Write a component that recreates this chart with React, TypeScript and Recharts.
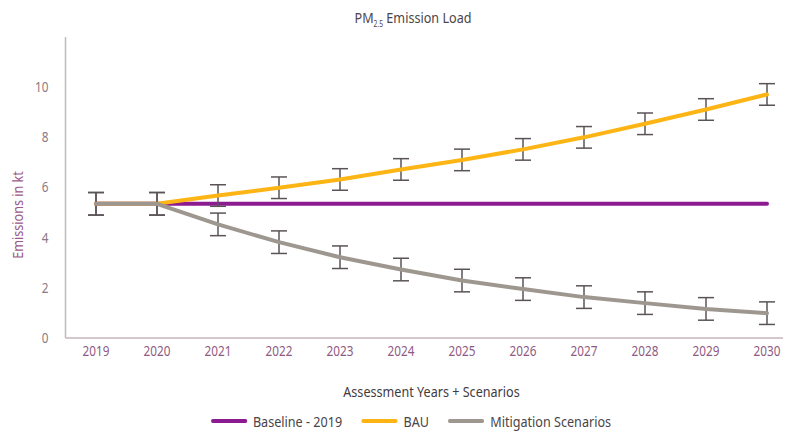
import React from 'react';
import { LineChart, Line, XAxis, YAxis, ErrorBar, Legend } from 'recharts';

const years = ['2019', '2020', '2021', '2022', '2023', '2024', '2025', '2026', '2027', '2028', '2029', '2030'];
const baseline = [5.35, 5.35, 5.35, 5.35, 5.35, 5.35, 5.35, 5.35, 5.35, 5.35, 5.35, 5.35];
const bau = [5.35, 5.35, 5.68, 5.99, 6.32, 6.72, 7.1, 7.52, 8.0, 8.54, 9.11, 9.71];
const bauErr = [0.45, 0.45, 0.43, 0.43, 0.43, 0.43, 0.43, 0.43, 0.43, 0.43, 0.43, 0.43];
const mitigation = [5.35, 5.35, 4.53, 3.82, 3.22, 2.73, 2.29, 1.95, 1.63, 1.39, 1.16, 0.99];
const mitigationErr = [0.45, 0.45, 0.45, 0.45, 0.45, 0.45, 0.45, 0.45, 0.45, 0.45, 0.45, 0.45];
const yTicks = [0, 2, 4, 6, 8, 10];
const seriesOrder = ['Baseline - 2019', 'BAU', 'Mitigation Scenarios'];

const data = years.map((y, i) => ({
  year: y,
  baseline: baseline[i],
  bau: bau[i],
  bauErr: bauErr[i],
  mitigation: mitigation[i],
  mitigationErr: mitigationErr[i],
}));

const FONT = '"Noto Sans", sans-serif';
const SX = 0.84;

const XTick = (props: any) => {
  const { x, y, payload } = props;
  return (
    <g transform={`translate(${x},${y})`}>
      <text x={0} y={0} dy="0.71em" textAnchor="middle" transform={`scale(${SX},1)`} fill="#8e5a82" fontSize={14} fontFamily={FONT}>
        {payload.value}
      </text>
    </g>
  );
};

const YTick = (props: any) => {
  const { x, y, payload } = props;
  return (
    <g transform={`translate(${x},${y})`}>
      <text x={0} y={0} dy="0.355em" textAnchor="end" transform={`scale(${SX},1)`} fill="#8a7a86" fontSize={14} fontFamily={FONT}>
        {payload.value}
      </text>
    </g>
  );
};

const XLabel = (props: any) => {
  const vb = props.viewBox || { x: 0, y: 0, width: 0, height: 0 };
  const cx = vb.x + vb.width / 2;
  const cy = vb.y + vb.height - 1;
  return (
    <g transform={`translate(${cx},${cy})`}>
      <text x={0} y={0} textAnchor="middle" transform={`scale(${SX},1)`} fill="#3f3a3d" fontSize={15} fontFamily={FONT}>
        Assessment Years + Scenarios
      </text>
    </g>
  );
};

const YLabel = () => (
  <g transform="translate(9,207) rotate(-90)">
    <text x={0} y={0} textAnchor="middle" dominantBaseline="central" transform={`scale(${SX},1)`} fill="#9a5a8a" fontSize={15} fontFamily={FONT}>
      Emissions in kt
    </text>
  </g>
);

const renderLegend = (props: any) => {
  const payload = [...(props.payload || [])].sort(
    (a: any, b: any) => seriesOrder.indexOf(a.value) - seriesOrder.indexOf(b.value)
  );
  return (
    <div style={{ display: 'flex', justifyContent: 'center', alignItems: 'center', fontFamily: FONT, fontSize: 15, lineHeight: '18px', color: '#4a4448', transform: `scaleX(${SX})`, transformOrigin: 'center', whiteSpace: 'nowrap' }}>
      {payload.map((p: any, i: number) => (
        <div key={p.value} style={{ display: 'flex', alignItems: 'center', marginRight: i < payload.length - 1 ? 23 : 0 }}>
          <div style={{ width: 43, height: 4, borderRadius: 2, background: p.color, marginRight: 7 }} />
          <span>{p.value}</span>
        </div>
      ))}
    </div>
  );
};

export default function App() {
  return (
    <div style={{ position: 'relative', width: 783, height: 425, overflow: 'hidden', background: '#fff', fontFamily: FONT }}>
      <div style={{ position: 'absolute', top: -1, left: 0, width: 810, textAlign: 'center', fontSize: 15, lineHeight: '20px', color: '#4d4448', zIndex: 2, transform: `scaleX(${SX})`, transformOrigin: 'center', whiteSpace: 'nowrap' }}>
        PM<sub style={{ fontSize: 8, lineHeight: '8px' }}>2.5</sub> Emission Load
      </div>
      <LineChart width={800} height={425} data={data} margin={{ top: 29, right: 10.5, bottom: 35, left: 7.5 }}>
        <XAxis
          dataKey="year"
          height={60}
          padding={{ left: 30.5, right: 30.5 }}
          axisLine={{ stroke: '#c4b6bd', strokeWidth: 1.5 }}
          tickLine={false}
          tick={<XTick />}
          label={<XLabel />}
        />
        <YAxis
          width={50}
          domain={[0, 12]}
          ticks={yTicks}
          axisLine={{ stroke: '#c4b6bd', strokeWidth: 1.5 }}
          tickLine={false}
          tickSize={6}
          tickMargin={11}
          tick={<YTick />}
          label={<YLabel />}
        />
        <Legend layout="vertical" align="center" verticalAlign="middle" wrapperStyle={{ top: 404, left: 0, width: 806, height: 18 }} content={renderLegend} />
        <Line type="linear" dataKey="baseline" name="Baseline - 2019" stroke="#8c1a90" strokeWidth={4} strokeLinecap="round" dot={false} activeDot={false} isAnimationActive={false} />
        <Line type="linear" dataKey="bau" name="BAU" stroke="#fdb515" strokeWidth={4} strokeLinecap="round" strokeLinejoin="round" dot={false} activeDot={false} isAnimationActive={false}>
          <ErrorBar dataKey="bauErr" width={8} strokeWidth={1.5} stroke="#5a5358" direction="y" />
        </Line>
        <Line type="linear" dataKey="mitigation" name="Mitigation Scenarios" stroke="#9d9790" strokeWidth={4} strokeLinecap="round" strokeLinejoin="round" dot={false} activeDot={false} isAnimationActive={false}>
          <ErrorBar dataKey="mitigationErr" width={8} strokeWidth={1.5} stroke="#5a5358" direction="y" />
        </Line>
      </LineChart>
    </div>
  );
}
